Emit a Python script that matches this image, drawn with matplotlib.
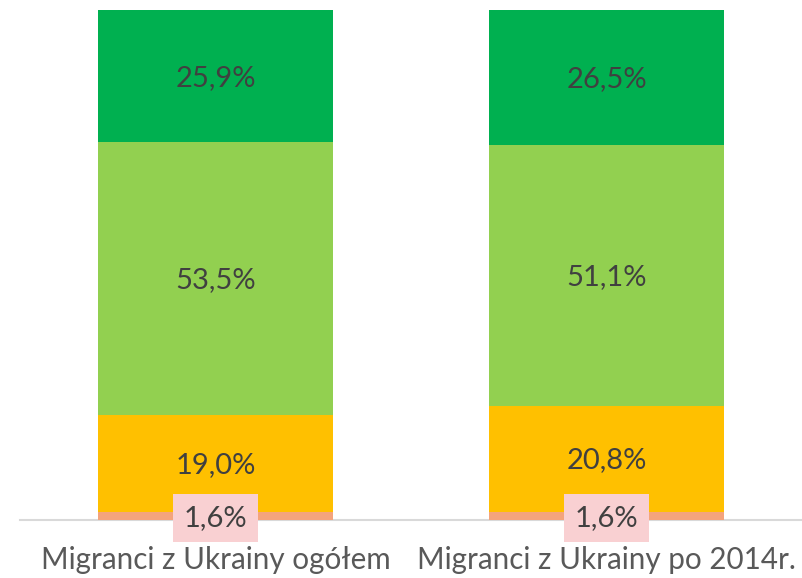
import numpy as np
import matplotlib.pyplot as plt

plt.rcParams['font.family'] = ['Lato', 'DejaVu Sans']

categories = ['Migranci z Ukrainy ogółem', 'Migranci z Ukrainy po 2014r.']
seg1 = [1.6, 1.6]
seg2 = [19.0, 20.8]
seg3 = [53.5, 51.1]
seg4 = [25.9, 26.5]
colors = ['#F4A47C', '#FFC000', '#92D050', '#00B050']

fig = plt.figure(figsize=(8.02, 5.78), dpi=100)
ax = fig.add_axes([20 / 802, 58 / 578, 782 / 802, 510 / 578])

x = np.arange(len(categories))
bottom = np.zeros(len(categories))
for i, vals in enumerate([seg1, seg2, seg3, seg4]):
    vals = np.array(vals)
    ax.bar(x, vals, width=0.6, bottom=bottom, color=colors[i], zorder=2)
    for xi, v, b in zip(x, vals, bottom):
        label = f'{v:.1f}%'.replace('.', ',')
        if i == 0:
            ax.text(xi, b + v / 2 - 0.4, label, ha='center', va='center',
                    fontsize=21, color='#404040', zorder=4,
                    bbox=dict(boxstyle='square,pad=0.38', fc='#F9D0D2', ec='none'))
        else:
            ax.text(xi, b + v / 2 - 0.3, label, ha='center', va='center',
                    fontsize=21, color='#404040', zorder=3)
    bottom += vals

ax.set_xlim(-0.5, 1.5)
ax.set_ylim(0, 100)
ax.set_yticks([])
ax.set_xticks(x)
ax.set_xticklabels(categories, fontsize=21.3, color='#595959')
ax.tick_params(axis='x', length=0, pad=19)
for s in ['top', 'left', 'right']:
    ax.spines[s].set_visible(False)
ax.spines['bottom'].set_color('#D9D9D9')
ax.spines['bottom'].set_linewidth(1.5)
ax.spines['bottom'].set_zorder(1)

plt.savefig('out.png', dpi=100)
